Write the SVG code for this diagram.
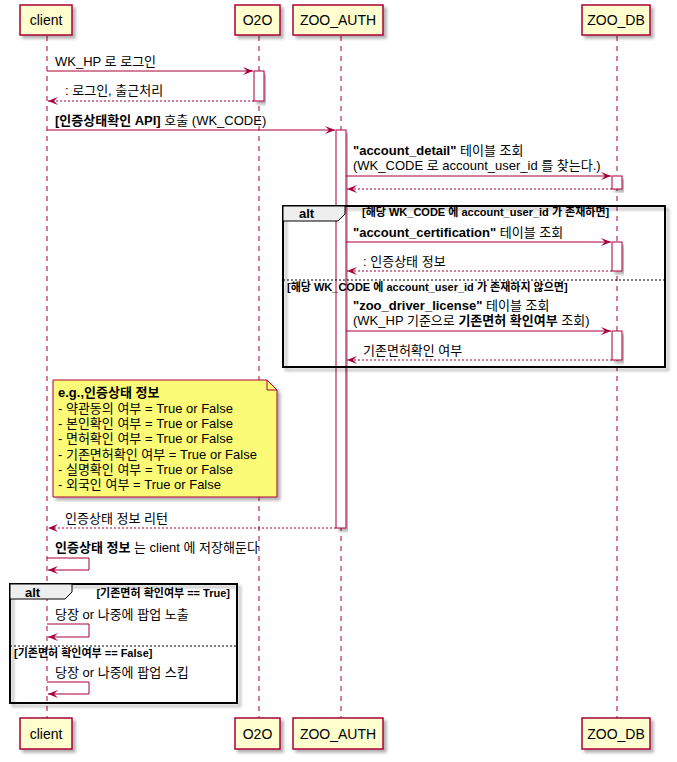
<svg xmlns="http://www.w3.org/2000/svg" width="677" height="762" viewBox="0 0 677 762">
<defs>
<filter id="sh" x="-10%" y="-10%" width="130%" height="140%"><feDropShadow dx="3" dy="3" stdDeviation="1.5" flood-color="#000" flood-opacity="0.3"/></filter>
<marker id="ah" markerWidth="12" markerHeight="10" refX="10" refY="4" orient="auto" markerUnits="userSpaceOnUse"><polygon points="0,0 10,4 0,8 4,4" fill="#A80036"/></marker>
</defs>
<style>
text{font-family:"Liberation Sans","Noto Sans CJK KR",sans-serif;fill:#000}
.p{font-size:14px;text-anchor:middle}
.m{font-size:13px}
.g{font-size:11px;font-weight:bold}
.b{font-weight:bold}
.box{fill:#FEFECE;stroke:#A80036;stroke-width:1.5;filter:url(#sh)}
.life{stroke:#A80036;stroke-width:1;stroke-dasharray:5,5}
.act{fill:#fff;stroke:#A80036;stroke-width:1;filter:url(#sh)}
.a{stroke:#A80036;stroke-width:1;fill:none;marker-end:url(#ah)}
.r{stroke:#A80036;stroke-width:1;fill:none;stroke-dasharray:2,2;marker-end:url(#ah)}
.frame{fill:none;stroke:#000;stroke-width:2;filter:url(#sh)}
.div{stroke:#000;stroke-width:1;stroke-dasharray:2,2}
</style>
<g id="lifelines">
<line class="life" x1="47" y1="36" x2="47" y2="718"/>
<line class="life" x1="259" y1="36" x2="259" y2="718"/>
<line class="life" x1="341" y1="36" x2="341" y2="718"/>
<line class="life" x1="617" y1="36" x2="617" y2="718"/>
</g>
<g id="client"><rect class="box" x="20" y="5" width="52" height="30"/><text class="p" x="46" y="25">client</text>
<rect class="box" x="20" y="718" width="52" height="31"/><text class="p" x="46" y="739">client</text></g>
<g id="O2O"><rect class="box" x="235" y="5" width="45" height="30"/><text class="p" x="257.5" y="25">O2O</text>
<rect class="box" x="235" y="718" width="45" height="31"/><text class="p" x="257.5" y="739">O2O</text></g>
<g id="ZOO_AUTH"><rect class="box" x="293" y="5" width="90" height="30"/><text class="p" x="338" y="25">ZOO_AUTH</text>
<rect class="box" x="293" y="718" width="90" height="31"/><text class="p" x="338" y="739">ZOO_AUTH</text></g>
<g id="ZOO_DB"><rect class="box" x="582" y="5" width="68" height="30"/><text class="p" x="616" y="25">ZOO_DB</text>
<rect class="box" x="582" y="718" width="68" height="31"/><text class="p" x="616" y="739">ZOO_DB</text></g>
<g id="activations">
<rect class="act" x="254" y="71" width="10" height="30"/>
<rect class="act" x="336" y="130" width="10" height="398"/>
<rect class="act" x="612" y="176" width="10" height="13"/>
<rect class="act" x="612" y="242" width="10" height="29"/>
<rect class="act" x="612" y="331" width="10" height="29"/>
</g>
<g id="alt1">
<rect class="frame" x="283" y="206" width="382" height="161" fill="none"/>
<path d="M283,206 H345 V214 L338,221 H283 Z" fill="#EEEEEE" stroke="#000" stroke-width="1"/>
<text class="m b" x="299" y="218">alt</text>
<text class="g" x="362" y="216">[해당 WK_CODE 에 account_user_id 가 존재하면]</text>
<line class="div" x1="283" y1="280" x2="665" y2="280"/>
<text class="g" x="287" y="291">[해당 WK_CODE 에 account_user_id 가 존재하지 않으면]</text>
</g>
<g id="alt2">
<rect class="frame" x="10" y="584" width="227" height="119" fill="none"/>
<path d="M10,584 H72 V592 L65,599 H10 Z" fill="#EEEEEE" stroke="#000" stroke-width="1"/>
<text class="m b" x="25" y="597">alt</text>
<text class="g" x="230" y="597" text-anchor="end">[기존면허 확인여부 == True]</text>
<line class="div" x1="10" y1="646" x2="237" y2="646"/>
<text class="g" x="14" y="657">[기존면허 확인여부 == False]</text>
</g>
<g id="note">
<path d="M53,380 H267 L277,390 V497 H53 Z" fill="#FBFB77" stroke="#A80036" stroke-width="1" filter="url(#sh)"/>
<path d="M267,380 V390 H277" fill="none" stroke="#A80036" stroke-width="1"/>
<text class="m" x="58"><tspan x="58" y="397" class="b">e.g.,인증상태 정보</tspan><tspan x="58" y="413">- 약관동의 여부 = True or False</tspan><tspan x="58" y="428">- 본인확인 여부 = True or False</tspan><tspan x="58" y="443">- 면허확인 여부 = True or False</tspan><tspan x="58" y="459">- 기존면허확인 여부 = True or False</tspan><tspan x="58" y="474">- 실명확인 여부 = True or False</tspan><tspan x="58" y="489">- 외국인 여부 = True or False</tspan></text>
</g>
<g id="connectors">
<line class="a" x1="47" y1="71" x2="253" y2="71"/>
<text class="m" x="55" y="66">WK_HP 로 로그인</text>
<line class="r" x1="254" y1="101" x2="48" y2="101"/>
<text class="m" x="65" y="95">: 로그인, 출근처리</text>
<line class="a" x1="47" y1="130" x2="335" y2="130"/>
<text class="m" x="55" y="125"><tspan class="b">[인증상태확인 API]</tspan> 호출 (WK_CODE)</text>
<line class="a" x1="346" y1="176" x2="611" y2="176"/>
<text class="m" x="353" y="155"><tspan class="b">"account_detail"</tspan> 테이블 조회</text>
<text class="m" x="353" y="170">(WK_CODE 로 account_user_id 를 찾는다.)</text>
<line class="r" x1="612" y1="189" x2="347" y2="189"/>
<line class="a" x1="346" y1="242" x2="611" y2="242"/>
<text class="m" x="353" y="237"><tspan class="b">"account_certification"</tspan> 테이블 조회</text>
<line class="r" x1="612" y1="271" x2="347" y2="271"/>
<text class="m" x="363" y="266">: 인증상태 정보</text>
<line class="a" x1="346" y1="331" x2="611" y2="331"/>
<text class="m" x="353" y="310"><tspan class="b">"zoo_driver_license"</tspan> 테이블 조회</text>
<text class="m" x="353" y="325">(WK_HP 기준으로 <tspan class="b">기존면허 확인여부</tspan> 조회)</text>
<line class="r" x1="612" y1="360" x2="347" y2="360"/>
<text class="m" x="363" y="355">기존면허확인 여부</text>
<line class="r" x1="336" y1="528" x2="48" y2="528"/>
<text class="m" x="65" y="523">인증상태 정보 리턴</text>
<path class="a" d="M47,558 H89 V570 H48"/>
<text class="m" x="55" y="552"><tspan class="b">인증상태 정보</tspan> 는 client 에 저장해둔다</text>
<path class="a" d="M47,624 H89 V637 H48"/>
<text class="m" x="55" y="619">당장 or 나중에 팝업 노출</text>
<path class="a" d="M47,682 H89 V694 H48"/>
<text class="m" x="55" y="677">당장 or 나중에 팝업 스킵</text>
</g>
</svg>
